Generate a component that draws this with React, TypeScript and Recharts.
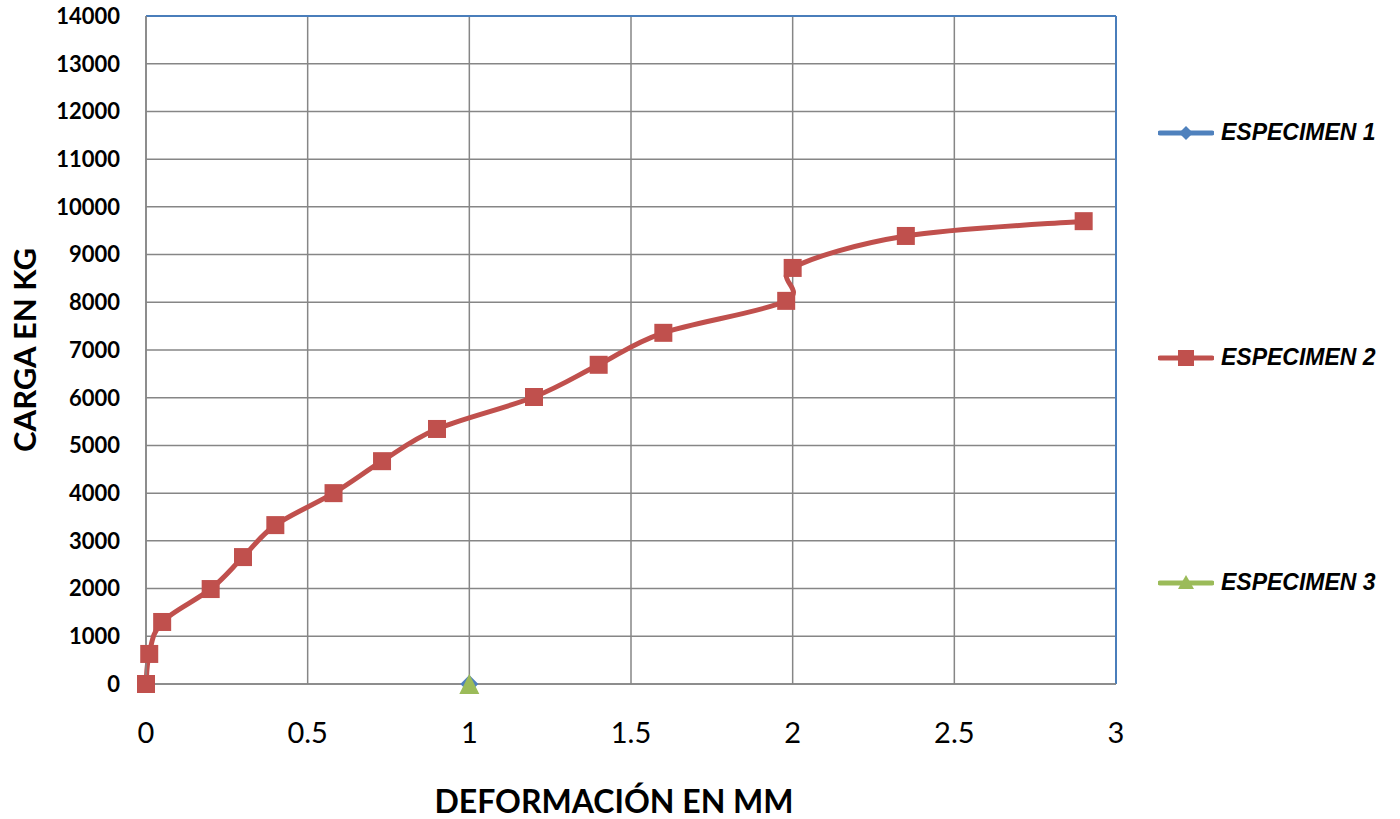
import React from 'react';
import {
  LineChart,
  Line,
  XAxis,
  YAxis,
  CartesianGrid,
  ReferenceLine,
  Legend,
} from 'recharts';

// Load–deformation readings (deformation in mm, load in kg)
const deformacion2 = [0, 0.01, 0.05, 0.2, 0.3, 0.4, 0.58, 0.73, 0.9, 1.2, 1.4, 1.6, 1.98, 2.0, 2.35, 2.9];
const carga2 = [0, 630, 1300, 1990, 2660, 3330, 4000, 4670, 5345, 6015, 6690, 7360, 8030, 8720, 9390, 9700];

const deformacion1 = [1];
const carga1 = [0];

const deformacion3 = [1];
const carga3 = [0];

const xTicks = [0, 0.5, 1, 1.5, 2, 2.5, 3];
const yTicks = [0, 1000, 2000, 3000, 4000, 5000, 6000, 7000, 8000, 9000, 10000, 11000, 12000, 13000, 14000];

const seriesNames = ['ESPECIMEN 1', 'ESPECIMEN 2', 'ESPECIMEN 3'];

const BLUE = '#4F81BD';
const RED = '#C0504D';
const GREEN = '#9BBB59';
const GRID = '#868686';
const BORDER = '#4A7EBB';

const toRows = (xs: number[], ys: number[]) => xs.map((x, i) => ({ x, y: ys[i] }));

const data1 = toRows(deformacion1, carga1);
const data2 = toRows(deformacion2, carga2);
const data3 = toRows(deformacion3, carga3);

// Smoothed line in the spreadsheet style: uniform Catmull-Rom segments
// written as cubic Béziers with control points at P ± (Pnext - Pprev) / 6.
const smoothCurve = (context: any) => {
  let pts: [number, number][] = [];
  return {
    areaStart() {},
    areaEnd() {},
    lineStart() {
      pts = [];
    },
    point(x: number, y: number) {
      pts.push([+x, +y]);
    },
    lineEnd() {
      const n = pts.length;
      if (n === 0) return;
      context.moveTo(pts[0][0], pts[0][1]);
      if (n === 1) {
        context.lineTo(pts[0][0], pts[0][1]);
        return;
      }
      for (let i = 0; i < n - 1; i++) {
        const p0 = pts[Math.max(i - 1, 0)];
        const p1 = pts[i];
        const p2 = pts[i + 1];
        const p3 = pts[Math.min(i + 2, n - 1)];
        const c1x = p1[0] + (p2[0] - p0[0]) / 6;
        const c1y = p1[1] + (p2[1] - p0[1]) / 6;
        const c2x = p2[0] - (p3[0] - p1[0]) / 6;
        const c2y = p2[1] - (p3[1] - p1[1]) / 6;
        context.bezierCurveTo(c1x, c1y, c2x, c2y, p2[0], p2[1]);
      }
    },
  };
};

const SquareDot = (props: any) => {
  const { cx, cy, index } = props;
  if (cx == null || cy == null) return <g key={`sq-${index}`} />;
  return <rect key={`sq-${index}`} x={cx - 9} y={cy - 9} width={18} height={18} fill={RED} />;
};

const DiamondDot = (props: any) => {
  const { cx, cy, index } = props;
  if (cx == null || cy == null) return <g key={`di-${index}`} />;
  const r = 9;
  return (
    <path
      key={`di-${index}`}
      d={`M${cx},${cy - r} L${cx + r},${cy} L${cx},${cy + r} L${cx - r},${cy} Z`}
      fill={BLUE}
    />
  );
};

const TriangleDot = (props: any) => {
  const { cx, cy, index } = props;
  if (cx == null || cy == null) return <g key={`tr-${index}`} />;
  return (
    <path
      key={`tr-${index}`}
      d={`M${cx},${cy - 10} L${cx + 10},${cy + 10} L${cx - 10},${cy + 10} Z`}
      fill={GREEN}
    />
  );
};

const legendColors = [BLUE, RED, GREEN];

const LegendMarker = ({ i }: { i: number }) => {
  const c = legendColors[i];
  return (
    <svg width={56} height={20} style={{ display: 'block' }}>
      <line x1={2} y1={10} x2={54} y2={10} stroke={c} strokeWidth={5} strokeLinecap="round" />
      {i === 0 && <path d="M28,3 L35,10 L28,17 L21,10 Z" fill={c} />}
      {i === 1 && <rect x={20} y={2} width={16} height={16} fill={c} />}
      {i === 2 && <path d="M28,2 L36,16 L20,16 Z" fill={c} />}
    </svg>
  );
};

const LegendContent = () => (
  <div style={{ position: 'relative', width: 260, height: 819 }}>
    {seriesNames.map((name, i) => (
      <div
        key={name}
        style={{
          position: 'absolute',
          left: 18,
          top: 119 + i * 225,
          display: 'flex',
          alignItems: 'center',
          gap: 7,
        }}
      >
        <LegendMarker i={i} />
        <span
          style={{
            fontFamily: '"Liberation Sans", Arial, sans-serif',
            fontWeight: 'bold',
            fontStyle: 'italic',
            fontSize: 23,
            color: '#000',
            whiteSpace: 'nowrap',
          }}
        >
          {name}
        </span>
      </div>
    ))}
  </div>
);

const YTitle = (props: any) => {
  const vb = props.viewBox || {};
  const cx = 24;
  const cy = (vb.y ?? 16) + (vb.height ?? 668) / 2;
  return (
    <text
      x={cx}
      y={cy}
      transform={`rotate(-90 ${cx} ${cy})`}
      textAnchor="middle"
      dominantBaseline="central"
      fontFamily="Lato, 'Open Sans', sans-serif"
      fontWeight="bold"
      fontSize={31}
      fill="#000"
    >
      CARGA EN KG
    </text>
  );
};

const XTitle = (props: any) => {
  const vb = props.viewBox || {};
  const cx = 614;
  const cy = (vb.y ?? 684) + 116;
  return (
    <text
      x={cx}
      y={cy}
      textAnchor="middle"
      dominantBaseline="central"
      fontFamily="Lato, 'Open Sans', sans-serif"
      fontWeight="bold"
      fontSize={32}
      fill="#000"
    >
      DEFORMACIÓN EN MM
    </text>
  );
};

export default function App() {
  return (
    <div style={{ position: 'absolute', left: 0, top: 0, width: 1400, height: 819, background: '#fff' }}>
      <LineChart
        width={1400}
        height={819}
        margin={{ top: 16, right: 24, bottom: 0, left: 0 }}
      >
        <CartesianGrid stroke={GRID} strokeWidth={1.5} vertical horizontal />
        <XAxis
          type="number"
          dataKey="x"
          domain={[0, 3]}
          ticks={xTicks}
          interval={0}
          allowDuplicatedCategory={false}
          height={135}
          axisLine={{ stroke: GRID, strokeWidth: 1.5 }}
          tickLine={false}
          tickMargin={32}
          tick={{ fill: '#000', fontSize: 29, fontFamily: "Lato, 'Open Sans', sans-serif" }}
          label={<XTitle />}
        />
        <YAxis
          type="number"
          dataKey="y"
          domain={[0, 14000]}
          ticks={yTicks}
          interval={0}
          width={146}
          axisLine={{ stroke: GRID, strokeWidth: 1.5 }}
          tickLine={false}
          tickMargin={20}
          tick={{ fill: '#000', fontSize: 22, fontWeight: 'bold', fontFamily: "Lato, 'Open Sans', sans-serif" }}
          label={<YTitle />}
        />
        <ReferenceLine y={14000} stroke={BORDER} strokeWidth={2} />
        <ReferenceLine x={3} stroke={BORDER} strokeWidth={2} />
        <Legend
          layout="vertical"
          align="right"
          verticalAlign="top"
          content={<LegendContent />}
          wrapperStyle={{ left: 1140, top: 0, width: 260, height: 819 }}
        />
        <Line
          name={seriesNames[1]}
          data={data2}
          dataKey="y"
          type={smoothCurve as any}
          stroke={RED}
          strokeWidth={5}
          dot={SquareDot}
          activeDot={false}
          isAnimationActive={false}
        />
        <Line
          name={seriesNames[0]}
          data={data1}
          dataKey="y"
          type={smoothCurve as any}
          stroke={BLUE}
          strokeWidth={5}
          dot={DiamondDot}
          activeDot={false}
          isAnimationActive={false}
        />
        <Line
          name={seriesNames[2]}
          data={data3}
          dataKey="y"
          type={smoothCurve as any}
          stroke={GREEN}
          strokeWidth={5}
          dot={TriangleDot}
          activeDot={false}
          isAnimationActive={false}
        />
      </LineChart>
    </div>
  );
}
